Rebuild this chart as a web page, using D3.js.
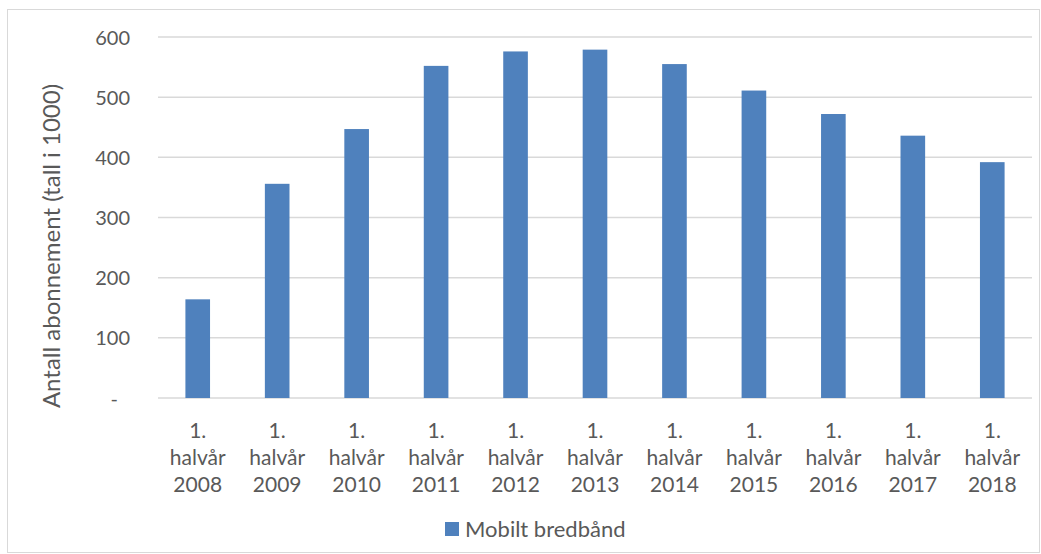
<!DOCTYPE html>
<html>
<head>
<meta charset="utf-8">
<script src="https://cdn.jsdelivr.net/npm/d3@7"></script>
<style>
  html, body { margin: 0; padding: 0; background: #fff; }
  svg { display: block; }
  text { font-family: Lato, "Open Sans", sans-serif; fill: #595959; }
</style>
</head>
<body>
<svg id="chart" width="1041" height="554"></svg>
<script>
// Mobile broadband subscriptions, first half of each year (thousands)
const years = ["2008", "2009", "2010", "2011", "2012", "2013", "2014", "2015", "2016", "2017", "2018"];
const values = [164, 356, 447, 552, 576, 579, 555, 511, 472, 436, 392];
const yTicks = [0, 100, 200, 300, 400, 500, 600];
const seriesName = "Mobilt bredbånd";
const yTitle = "Antall abonnement (tall i 1000)";
const periodLabel = ["1.", "halvår"];

const svg = d3.select("#chart");
const margin = { left: 158, right: 9 };
const W = 1041;
const font = "Lato, 'Open Sans', sans-serif";

// outer chart border
svg.append("rect")
  .attr("x", 7.5).attr("y", 9.5)
  .attr("width", 1032).attr("height", 543)
  .attr("fill", "none").attr("stroke", "#d9d9d9").attr("stroke-width", 1);

const x = d3.scaleBand()
  .domain(years)
  .range([margin.left, W - margin.right])
  .paddingInner(0.69).paddingOuter(0.345);

const y = d3.scaleLinear()
  .domain([0, 600])
  .range([398, 37]);

// horizontal gridlines
svg.append("g")
  .selectAll("line")
  .data(yTicks)
  .join("line")
  .attr("x1", margin.left).attr("x2", W - margin.right)
  .attr("y1", d => y(d)).attr("y2", d => y(d))
  .attr("stroke", "#d9d9d9").attr("stroke-width", 1.5);

// y axis labels
const yAxis = d3.axisLeft(y)
  .tickValues(yTicks)
  .tickSize(0)
  .tickPadding(0)
  .tickFormat(d => d === 0 ? "-" : d3.format("d")(d));
const yg = svg.append("g")
  .attr("transform", "translate(130,0)")
  .call(yAxis);
yg.select(".domain").remove();
yg.selectAll("text")
  .style("font-size", "20px")
  .style("fill", "#595959")
  .style("font-family", font)
  .attr("dy", "0.35em")
  .attr("x", d => d === 0 ? -12 : 0);

// bars
svg.append("g")
  .selectAll("rect")
  .data(values)
  .join("rect")
  .attr("x", (d, i) => x(years[i]))
  .attr("width", x.bandwidth())
  .attr("y", d => y(d))
  .attr("height", d => y(0) - y(d))
  .attr("fill", "#4f81bd");

// x axis category labels (three lines)
const xAxis = d3.axisBottom(x).tickSize(0).tickFormat("");
const xg = svg.append("g")
  .attr("transform", `translate(0,${y(0)})`)
  .call(xAxis);
xg.select(".domain").remove();
xg.selectAll(".tick").each(function(d) {
  const t = d3.select(this).append("text")
    .attr("text-anchor", "middle")
    .style("font-size", "21px")
    .style("font-family", font)
    .style("fill", "#595959");
  const lines = [...periodLabel, d];
  lines.forEach((s, k) => {
    t.append("tspan")
      .attr("x", 0)
      .attr("y", 40 + k * 27)
      .text(s);
  });
});

// y axis title
svg.append("text")
  .attr("transform", "translate(60,246) rotate(-90)")
  .attr("text-anchor", "middle")
  .style("font-size", "24px")
  .text(yTitle);

// legend
const lg = svg.append("g").attr("transform", "translate(445,522)");
lg.append("rect").attr("width", 14).attr("height", 14).attr("fill", "#4f81bd");
lg.append("text")
  .attr("x", 20).attr("y", 7).attr("dy", "0.35em")
  .style("font-size", "22px")
  .text(seriesName);
</script>
</body>
</html>
